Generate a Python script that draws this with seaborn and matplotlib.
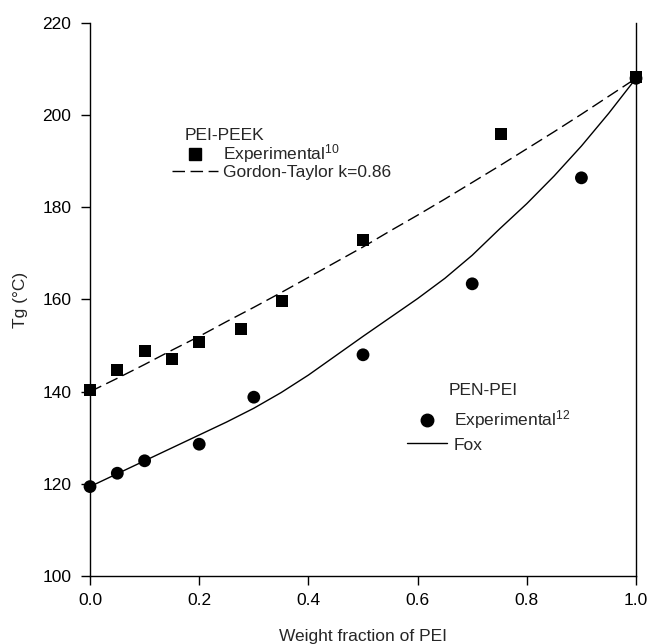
import matplotlib
matplotlib.use("Agg")
import matplotlib.pyplot as plt
import seaborn as sns
import pandas as pd
from matplotlib.lines import Line2D

# PEI-PEEK experimental points (weight fraction PEI, Tg in C)
peek_w = [0.0, 0.05, 0.10, 0.15, 0.20, 0.276, 0.351, 0.50, 0.753, 1.0]
peek_tg = [140.3, 144.8, 148.8, 147.0, 150.7, 153.6, 159.6, 172.9, 196.0, 208.2]

# PEN-PEI experimental points
pen_w = [0.0, 0.05, 0.10, 0.20, 0.30, 0.50, 0.70, 0.90, 1.0]
pen_tg = [119.4, 122.3, 125.0, 128.6, 138.8, 148.0, 163.4, 186.4, 208.0]

# model curves
curve_w = [0.0, 0.05, 0.10, 0.15, 0.20, 0.25, 0.30, 0.35, 0.40, 0.45, 0.50,
           0.55, 0.60, 0.65, 0.70, 0.75, 0.80, 0.85, 0.90, 0.95, 1.0]
gt_tg = [140.0, 142.9, 145.9, 149.0, 152.0, 155.2, 158.3, 161.5, 164.8, 168.1, 171.4,
         174.9, 178.3, 181.8, 185.4, 189.0, 192.7, 196.4, 200.2, 204.1, 208.0]
fox_tg = [119.4, 122.2, 125.0, 127.8, 130.6, 133.4, 136.4, 139.8, 143.6, 147.8, 152.0,
          156.1, 160.2, 164.6, 169.6, 175.3, 180.8, 186.8, 193.3, 200.4, 208.0]

FS = 12.5

sns.set_theme(style="ticks")
plt.rcParams['font.family'] = ['Liberation Sans', 'DejaVu Sans']
plt.rcParams['mathtext.fontset'] = 'custom'
plt.rcParams['mathtext.rm'] = 'Liberation Sans'
plt.rcParams['mathtext.it'] = 'Liberation Sans'

peek = pd.DataFrame({"w": peek_w, "tg": peek_tg})
pen = pd.DataFrame({"w": pen_w, "tg": pen_tg})
curves = pd.DataFrame({"w": curve_w, "gt": gt_tg, "fox": fox_tg})

fig = plt.figure(figsize=(6.49, 6.44), dpi=100)
ax = fig.add_axes([0.1387, 0.1056, 0.8413, 0.8587])

sns.lineplot(data=curves, x="w", y="gt", ax=ax, color="black", linewidth=1.0, sort=True)
ax.lines[-1].set_dashes((9, 4))
sns.lineplot(data=curves, x="w", y="fox", ax=ax, color="black", linewidth=1.0, sort=True)

sns.scatterplot(data=pen, x="w", y="tg", ax=ax, marker="o", s=85, color="black",
                edgecolor="none", clip_on=False, zorder=4)
sns.scatterplot(data=peek, x="w", y="tg", ax=ax, marker="s", s=75, color="black",
                edgecolor="none", clip_on=False, zorder=5)

ax.set_xlim(0, 1.0)
ax.set_ylim(100, 220)
ax.set_xticks([0.0, 0.2, 0.4, 0.6, 0.8, 1.0])
ax.set_xticklabels(["0.0", "0.2", "0.4", "0.6", "0.8", "1.0"])
ax.set_yticks([100, 120, 140, 160, 180, 200, 220])

ax.spines['top'].set_visible(False)
for s in ['left', 'bottom', 'right']:
    ax.spines[s].set_color("black")
    ax.spines[s].set_linewidth(1.0)
ax.tick_params(axis='both', direction='out', length=6.5, width=1.0, colors="black",
               labelsize=FS)
ax.tick_params(axis='x', pad=6)
ax.tick_params(axis='y', pad=7)

ax.set_xlabel("Weight fraction of PEI", fontsize=FS, labelpad=15)
ax.set_ylabel("Tg (\u00b0C)", fontsize=FS, labelpad=10)

# legend titles
ax.text(0.174, 0.797, "PEI-PEEK", transform=ax.transAxes, fontsize=FS, va="center", ha="left")
ax.text(0.656, 0.336, "PEN-PEI", transform=ax.transAxes, fontsize=FS, va="center", ha="left")

# legends
h1 = [Line2D([], [], marker="s", linestyle="none", color="black", markersize=8.5),
      Line2D([], [], color="black", linewidth=1.0, dashes=(9, 4))]
leg1 = ax.legend(h1, ["Experimental$^{10}$", "Gordon-Taylor k=0.86"],
                 loc="upper left", bbox_to_anchor=(0.150, 0.784), frameon=False,
                 fontsize=FS, handlelength=2.64, handletextpad=0.3,
                 labelspacing=0.0, borderpad=0, borderaxespad=0)
ax.add_artist(leg1)

h2 = [Line2D([], [], marker="o", linestyle="none", color="black", markersize=9),
      Line2D([], [], color="black", linewidth=1.0)]
leg2 = ax.legend(h2, ["Experimental$^{12}$", "Fox"],
                 loc="upper left", bbox_to_anchor=(0.581, 0.303), frameon=False,
                 fontsize=FS, handlelength=2.29, handletextpad=0.4,
                 labelspacing=0.35, borderpad=0, borderaxespad=0)

fig.savefig("out.png", dpi=100)
